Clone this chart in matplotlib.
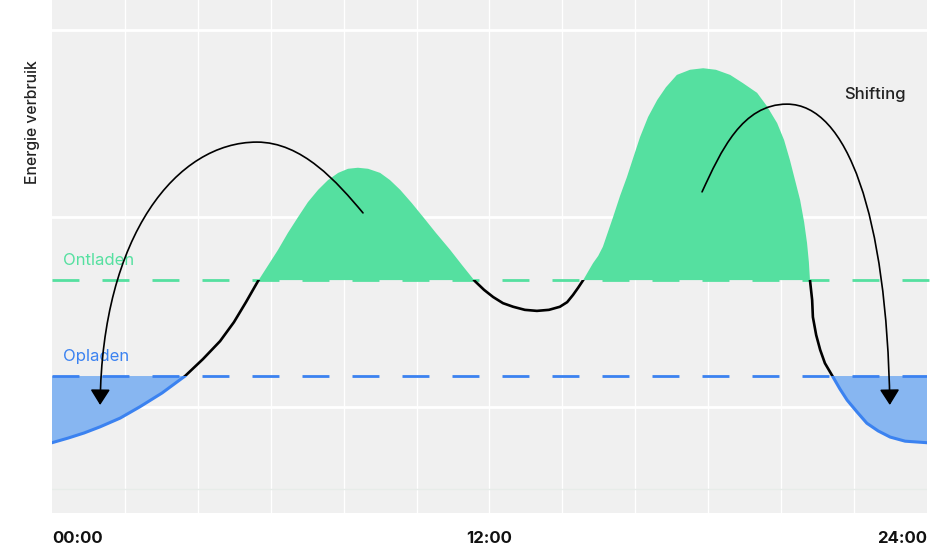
import numpy as np
import matplotlib.pyplot as plt
from matplotlib.patches import Rectangle, FancyArrowPatch
from matplotlib.path import Path

plt.rcParams['font.family'] = ['Inter', 'DejaVu Sans']
plt.rcParams['lines.scale_dashes'] = False

hours = [0.00, 0.44, 0.88, 1.32, 1.87, 2.41, 3.02, 3.65, 4.14, 4.61,
         4.99, 5.32, 5.65, 5.93, 6.20, 6.47, 6.75, 7.02, 7.30, 7.57,
         7.85, 8.12, 8.39, 8.67, 9.00, 9.27, 9.55, 9.87, 10.18, 10.53,
         10.92, 11.25, 11.60, 11.85, 12.10, 12.37, 12.65, 12.97, 13.30, 13.63,
         13.93, 14.13, 14.29, 14.43, 14.57, 14.70, 14.84, 14.98, 15.11, 15.25,
         15.39, 15.58, 15.77, 15.94, 16.13, 16.35, 16.60, 16.84, 17.14, 17.50,
         17.86, 18.21, 18.60, 18.95, 19.34, 19.61, 19.89, 20.08, 20.24, 20.38,
         20.52, 20.63, 20.71, 20.76, 20.79, 20.85, 20.87, 20.96, 21.07, 21.20,
         21.39, 21.61, 21.81, 22.08, 22.35, 22.66, 22.99, 23.40, 24.00]
values = [13.7, 14.6, 15.6, 16.8, 18.5, 20.7, 23.4, 26.7, 30.0, 33.5,
          37.2, 41.1, 45.2, 48.3, 51.3, 54.6, 57.7, 60.6, 63.0, 64.9,
          66.3, 67.1, 67.3, 67.1, 66.3, 64.9, 63.0, 60.4, 57.7, 54.6,
          51.3, 48.3, 45.2, 43.5, 42.1, 40.9, 40.2, 39.6, 39.4, 39.6,
          40.2, 41.1, 42.5, 43.9, 45.4, 47.0, 48.7, 50.1, 51.9, 54.8,
          57.7, 61.8, 65.5, 69.2, 73.3, 77.2, 80.5, 83.0, 85.4, 86.4,
          86.7, 86.4, 85.4, 83.8, 81.9, 79.3, 76.0, 72.7, 68.8, 64.9,
          61.0, 56.7, 52.6, 48.9, 45.4, 41.5, 38.2, 34.7, 31.8, 29.2,
          26.9, 24.2, 22.0, 19.7, 17.5, 16.0, 14.8, 14.0, 13.7]
ontladen = 45.4   # ontlaad-drempel
opladen = 26.7    # oplaad-drempel

tick_pos = [0, 12, 24]
tick_labels = ["00:00", "12:00", "24:00"]
grid_y = [20.7, 57.7, 94.2]

green = "#55E0A0"
blue = "#3B82F0"
blue_fill = "#87B6F1"

hours = np.array(hours)
values = np.array(values)

fig = plt.figure(figsize=(9.48, 5.52), dpi=100)
ax = fig.add_axes([52 / 948, 1 - 513 / 552, 875 / 948, 513 / 552])
ax.set_xlim(0, 24)
ax.set_ylim(0, 100)
ax.set_facecolor("#F0F0F0")
for s in ax.spines.values():
    s.set_visible(False)

# rasterlijnen
for x in range(2, 24, 2):
    ax.axvline(x, color="white", lw=1, zorder=0.5)
for y in grid_y:
    ax.axhline(y, color="white", lw=2, zorder=0.5)
ax.axhline(4.7, color="#E7ECE9", lw=1, zorder=0.5)

# vlakken boven/onder drempels
ax.fill_between(hours, values, ontladen, where=values > ontladen,
                interpolate=True, color=green, lw=0, zorder=2)
ax.fill_between(hours, values, opladen, where=values < opladen,
                interpolate=True, color=blue_fill, lw=0, zorder=2)

# drempellijnen
ax.plot([0, 24.6], [ontladen, ontladen], color=green, lw=2,
        dashes=(19.4, 16.6), zorder=2.5, clip_on=False)
ax.plot([0, 24], [opladen, opladen], color=blue, lw=2,
        dashes=(19.4, 16.6), zorder=2.5)

# verbruikscurve: zwart tussen de drempels, blauw eronder
line, = ax.plot(hours, values, color="black", lw=1.9, zorder=3,
                solid_joinstyle="round")
line.set_clip_path(Rectangle((0, opladen), 24, ontladen - opladen,
                             transform=ax.transData))
bline, = ax.plot(hours, values, color=blue, lw=2.2, zorder=3,
                 solid_joinstyle="round")
bline.set_clip_path(Rectangle((0, -5), 24, opladen + 5,
                              transform=ax.transData))

ax.text(0.3, 49.3, "Ontladen", color=green, fontsize=12, va="center")
ax.text(0.3, 30.6, "Opladen", color=blue, fontsize=12, va="center")

# shifting-pijlen
arrows = [
    [(8.53, 58.5), (7.82, 64.5), (6.86, 72.3), (5.62, 72.3),
     (3.43, 72.3), (1.37, 54.2), (1.32, 21.05)],
    [(17.83, 62.6), (18.35, 70.6), (18.93, 79.7), (20.16, 79.7),
     (21.81, 79.7), (22.90, 58.1), (22.98, 21.05)],
]
codes = [Path.MOVETO] + [Path.CURVE4] * 6
for pts in arrows:
    arr = FancyArrowPatch(path=Path(pts, codes),
                          arrowstyle="-|>,head_length=9.5,head_width=6",
                          mutation_scale=1, color="black", lw=1.2, zorder=5)
    ax.add_patch(arr)

ax.text(21.72, 81.5, "Shifting", color="#222222", fontsize=12,
        fontweight="medium", va="center", ha="left")

# assen
ax.set_yticks([])
ax.set_xticks(tick_pos, labels=tick_labels)
ax.tick_params(axis="x", length=0, pad=13, labelsize=12)
tl = ax.get_xticklabels()
for t in tl:
    t.set_fontweight("bold")
    t.set_color("#111111")
tl[0].set_ha("left")
tl[-1].set_ha("right")

fig.text(33 / 948, 1 - 122 / 552, "Energie verbruik", rotation=90,
         ha="center", va="center", fontsize=11.3, fontweight="medium",
         color="#222222")

fig.savefig("out.png", dpi=100)
